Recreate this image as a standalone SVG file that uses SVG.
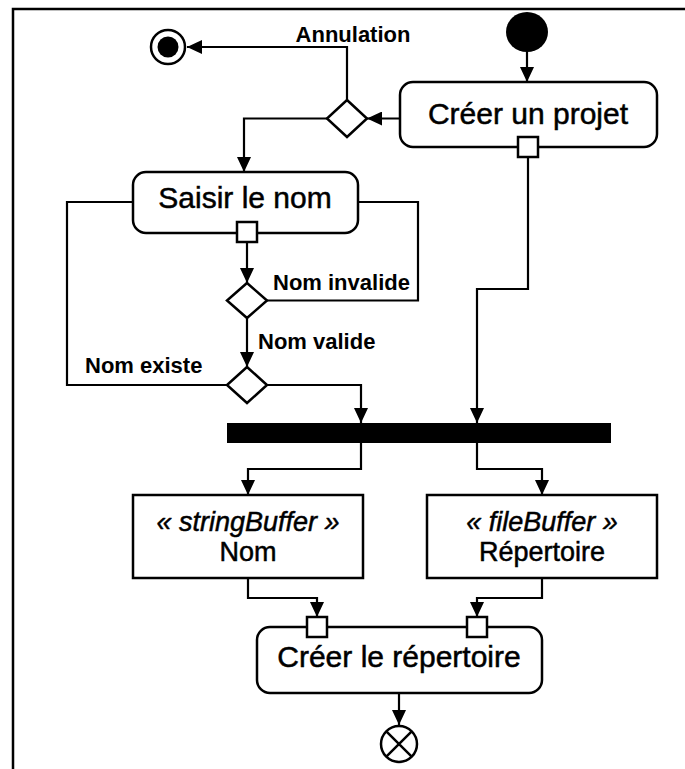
<svg xmlns="http://www.w3.org/2000/svg" width="685" height="769" viewBox="0 0 685 769">
  <defs>
    <style>
      .frame { fill: none; stroke: #000; stroke-width: 2.5; }
      .act { fill: #fff; stroke: #000; stroke-width: 2.5; }
      .obj { fill: #fff; stroke: #000; stroke-width: 2.5; }
      .pin { fill: #fff; stroke: #000; stroke-width: 2.5; }
      .dec { fill: #fff; stroke: #000; stroke-width: 2.5; stroke-linejoin: miter; }
      .flow { fill: none; stroke: #000; stroke-width: 2.2; }
      .arrow { fill: none; stroke: #000; stroke-width: 2.2; marker-end: url(#head); }
      .name { font-family: "Liberation Sans", Arial, sans-serif; font-size: 30px; text-anchor: middle; fill: #000; stroke: #000; stroke-width: 0.5; }
      .objtxt { font-family: "Liberation Sans", Arial, sans-serif; font-size: 27px; text-anchor: middle; fill: #000; stroke: #000; stroke-width: 0.5; }
      .stereo { font-style: italic; }
      .guard { font-family: "Liberation Sans", Arial, sans-serif; font-size: 22px; font-weight: bold; fill: #000; }
    </style>
    <marker id="head" viewBox="0 0 15 14" refX="15" refY="7" markerWidth="15" markerHeight="14" markerUnits="userSpaceOnUse" orient="auto">
      <path d="M0,0 L15,7 L0,14 Z" fill="#000"/>
    </marker>
  </defs>

  <rect width="685" height="769" fill="#fff"/>

  <!-- activity frame -->
  <path class="frame" d="M13,769 L13,9 L685,9"/>

  <!-- control and object flows -->
  <g id="flows">
    <path class="arrow" d="M527,52 L527,82"/>
    <path class="arrow" d="M400,118.5 L367,118.5"/>
    <path class="arrow" d="M347,100 L347,47 L187,47"/>
    <path class="arrow" d="M327,118.5 L244,118.5 L244,172"/>
    <path class="arrow" d="M247,242 L247,283"/>
    <path class="flow" d="M267,300.5 L418,300.5 L418,202 L358,202"/>
    <path class="arrow" d="M247,318 L247,367"/>
    <path class="flow" d="M227,385 L67,385 L67,202 L133,202"/>
    <path class="arrow" d="M267,385 L361,385 L361,423"/>
    <path class="arrow" d="M528,157 L528,289 L477,289 L477,423"/>
    <path class="arrow" d="M361,443 L361,469 L248,469 L248,495"/>
    <path class="arrow" d="M477,443 L477,469 L542,469 L542,495"/>
    <path class="arrow" d="M248,578 L248,598 L317,598 L317,617"/>
    <path class="arrow" d="M542,578 L542,598 L477,598 L477,617"/>
    <path class="arrow" d="M399,693 L399,725"/>
  </g>

  <!-- guard labels -->
  <g id="guards">
    <text class="guard" x="353" y="42" text-anchor="middle">Annulation</text>
    <text class="guard" x="273" y="290">Nom invalide</text>
    <text class="guard" x="258" y="349">Nom valide</text>
    <text class="guard" x="85" y="373">Nom existe</text>
  </g>

  <g id="initial">
    <ellipse cx="527" cy="32" rx="21" ry="20" fill="#000"/>
  </g>

  <g id="final">
    <circle cx="168" cy="47" r="17" fill="#fff" stroke="#000" stroke-width="2.5"/>
    <circle cx="168" cy="47" r="10.5" fill="#000"/>
  </g>

  <g id="creer-projet">
    <rect class="act" x="400" y="82" width="257" height="65" rx="13"/>
    <text class="name" x="528" y="124">Créer un projet</text>
    <rect class="pin" x="518" y="137" width="20" height="20"/>
  </g>

  <g id="decision-annulation">
    <polygon class="dec" points="347,100 367,118.5 347,137 327,118.5"/>
  </g>

  <g id="saisir-nom">
    <rect class="act" x="133" y="172" width="225" height="61" rx="13"/>
    <text class="name" x="245" y="208">Saisir le nom</text>
    <rect class="pin" x="237" y="222" width="20" height="20"/>
  </g>

  <g id="decision-valide">
    <polygon class="dec" points="247,283 267,300.5 247,318 227,300.5"/>
  </g>

  <g id="decision-existe">
    <polygon class="dec" points="247,367 267,385 247,403 227,385"/>
  </g>

  <g id="fork">
    <rect x="227" y="423" width="384" height="20" fill="#000"/>
  </g>

  <g id="obj-nom">
    <rect class="obj" x="133" y="495" width="230" height="83"/>
    <text class="objtxt stereo" x="248" y="531">« stringBuffer »</text>
    <text class="objtxt" x="248" y="561">Nom</text>
  </g>

  <g id="obj-repertoire">
    <rect class="obj" x="427" y="495" width="230" height="83"/>
    <text class="objtxt stereo" x="542" y="531">« fileBuffer »</text>
    <text class="objtxt" x="542" y="561">Répertoire</text>
  </g>

  <g id="creer-repertoire">
    <rect class="act" x="257" y="627" width="285" height="66" rx="13"/>
    <text class="name" x="399" y="667">Créer le répertoire</text>
    <rect class="pin" x="307" y="617" width="20" height="20"/>
    <rect class="pin" x="467" y="617" width="20" height="20"/>
  </g>

  <g id="flow-final">
    <circle cx="399" cy="744" r="18" fill="#fff" stroke="#000" stroke-width="2.5"/>
    <path d="M386.3,731.3 L411.7,756.7 M411.7,731.3 L386.3,756.7" stroke="#000" stroke-width="2.5"/>
  </g>
</svg>
